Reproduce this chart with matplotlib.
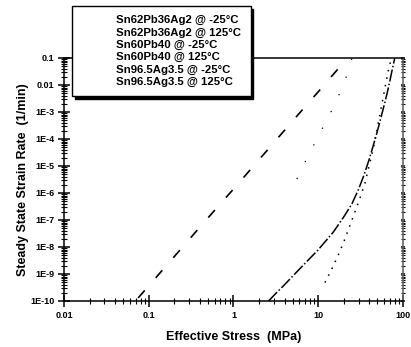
import matplotlib
matplotlib.use("Agg")
import matplotlib.pyplot as plt
from matplotlib.lines import Line2D
from matplotlib.ticker import FixedLocator, FixedFormatter, LogLocator, NullFormatter

plt.rcParams['font.family'] = ['Liberation Sans', 'DejaVu Sans']
plt.rcParams['font.weight'] = 'bold'

# --- dados ---
legend_labels = ['Sn62Pb36Ag2 @ -25\u00b0C', 'Sn62Pb36Ag2 @ 125\u00b0C',
                 'Sn60Pb40 @ -25\u00b0C', 'Sn60Pb40 @ 125\u00b0C',
                 'Sn96.5Ag3.5 @ -25\u00b0C', 'Sn96.5Ag3.5 @ 125\u00b0C']

# curva tracejada (esquerda)
stress_a = [0.075, 0.2, 0.5, 1, 2, 5, 10, 20, 25]
rate_a = [1.3e-10, 4.4e-9, 1.2e-7, 1.4e-6, 1.7e-5, 4.7e-4, 5.6e-3, 6.9e-2, 0.155]

# curva quase contínua (direita)
stress_b = [2.6, 3.1, 4, 6.1, 10, 15, 20, 25, 30, 35, 40, 45, 50, 55, 60, 65, 70, 75, 80]
rate_b = [1e-10, 1.8e-10, 4e-10, 1.6e-9, 7.9e-9, 3.5e-8, 1.3e-7, 4e-7, 1.4e-6, 5e-6,
          1.8e-5, 6.3e-5, 2e-4, 6.3e-4, 1.8e-3, 5e-3, 1.4e-2, 4e-2, 0.1]

# curva pontilhada (direita)
stress_c = [12.0, 14.4, 16.2, 18.1, 20.1, 25, 30.5, 35.6, 45, 56.1, 66.5, 74]
rate_c = [4.8e-10, 1.5e-9, 3.3e-9, 7.2e-9, 1.6e-8, 1e-7, 5.5e-7, 2.3e-6, 5e-5,
          1.8e-3, 3e-2, 0.12]

# pontos esparsos
stress_d = [5.6, 6.6, 16.2, 21.8, 25]
rate_d = [3.3e-6, 1e-5, 2.3e-3, 2.3e-2, 0.1]

x_ticks = [0.01, 0.1, 1, 10, 100]
x_tick_labels = ['0.01', '0.1', '1', '10', '100']
y_ticks = [1e-10, 1e-9, 1e-8, 1e-7, 1e-6, 1e-5, 1e-4, 1e-3, 1e-2, 1e-1]
y_tick_labels = ['1E-10', '1E-9', '1E-8', '1E-7', '1E-6', '1E-5', '1E-4', '1E-3', '0.01', '0.1']

fig = plt.figure(figsize=(4.11, 3.47), dpi=100)
ax = fig.add_axes([0.1557, 0.1326, 0.8248, 0.7003])

ax.plot(stress_a, rate_a, color='black', lw=1.2, linestyle=(0, (6, 10)))
ax.plot(stress_b, rate_b, color='black', lw=1.1, linestyle=(0, (8, 1.5, 1, 1.5)))
ax.plot(stress_c, rate_c, color='black', lw=1.1, linestyle=(0, (1, 4)))
ax.plot(stress_d, rate_d, color='black', lw=0.9, linestyle=(0, (1, 14)))

ax.set_xscale('log')
ax.set_yscale('log')
ax.set_xlim(0.01, 100)
ax.set_ylim(1e-10, 0.1)

ax.xaxis.set_major_locator(FixedLocator(x_ticks))
ax.xaxis.set_major_formatter(FixedFormatter(x_tick_labels))
ax.yaxis.set_major_locator(FixedLocator(y_ticks))
ax.yaxis.set_major_formatter(FixedFormatter(y_tick_labels))
ax.xaxis.set_minor_locator(LogLocator(base=10, subs=range(2, 10), numticks=20))
ax.yaxis.set_minor_locator(LogLocator(base=10, subs=range(2, 10), numticks=20))
ax.xaxis.set_minor_formatter(NullFormatter())
ax.yaxis.set_minor_formatter(NullFormatter())

ax.tick_params(axis='both', which='major', direction='inout', length=8, width=1.1,
               labelsize=6.5, pad=3)
ax.tick_params(axis='both', which='minor', direction='inout', length=5, width=0.8)
ax.tick_params(axis='y', which='both', right=True, labelright=False)
for t in ax.yaxis.get_ticklines(minor=True)[1::2] + ax.yaxis.get_ticklines()[1::2]:
    t.set_color('#666666')
    t.set_markersize(3)
for lab in ax.get_xticklabels() + ax.get_yticklabels():
    lab.set_fontweight('bold')

for s in ['left', 'bottom', 'top']:
    ax.spines[s].set_linewidth(1.1)
ax.spines['right'].set_color('#666666')
ax.spines['right'].set_linewidth(1.2)

ax.set_xlabel('Effective Stress  (MPa)', fontsize=9, fontweight='bold', labelpad=8)
ax.set_ylabel('Steady State Strain Rate  (1/min)', fontsize=9, fontweight='bold', labelpad=1)

# legenda só com texto (as linhas da legenda não aparecem no original)
handles = [Line2D([], [], linestyle='none') for _ in legend_labels]
leg = ax.legend(handles, legend_labels, loc='upper left',
                bbox_to_anchor=(72 / 411, 1 - 6 / 347), bbox_transform=fig.transFigure,
                borderaxespad=0, prop={'weight': 'bold', 'size': 8.2},
                handlelength=2.3, handletextpad=0.8, borderpad=0.8, labelspacing=0.2,
                fancybox=False, edgecolor='black', framealpha=1,
                shadow={'color': 'black', 'alpha': 1})
leg.get_frame().set_linewidth(1.0)
leg.set_zorder(10)

fig.savefig('out.png', dpi=100)
